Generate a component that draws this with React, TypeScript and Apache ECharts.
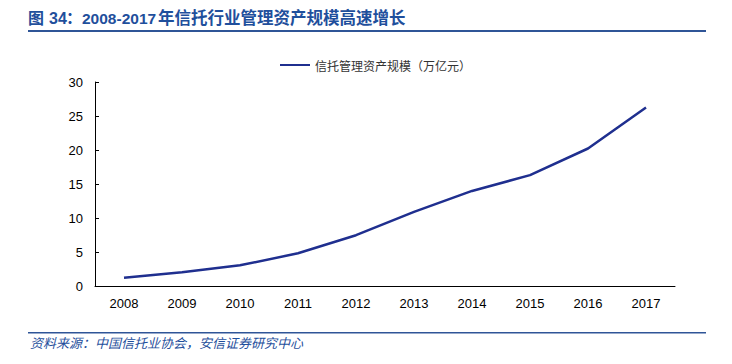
import React, { useEffect, useRef } from "react";
import * as echarts from "echarts";

const years = ["2008", "2009", "2010", "2011", "2012", "2013", "2014", "2015", "2016", "2017"];
const trustAssets = [1.22, 2.02, 3.04, 4.81, 7.47, 10.91, 13.98, 16.3, 20.22, 26.25];
const seriesName = "信托管理资产规模（万亿元）";
const titlePrefix = "图";
const titleNumber = "34";
const titleColon = "：";
const titleYears = "2008-2017";
const titleMain = "年信托行业管理资产规模高速增长";
const sourceText = "资料来源：中国信托业协会，安信证券研究中心";

export default function App() {
  const ref = useRef<HTMLDivElement>(null);
  useEffect(() => {
    const chart = echarts.init(ref.current!, undefined, { renderer: "svg" });
    const titleColor = "#1f4f9c";
    const latin = "'Liberation Sans', Arial, sans-serif";
    const cjk = "'Noto Sans CJK SC', sans-serif";
    chart.setOption({
      animation: false,
      backgroundColor: "#fff",
      graphic: [
        { type: "text", left: 28, top: 9, style: { text: titlePrefix, fill: titleColor, font: `bold 16px ${cjk}` } },
        { type: "text", left: 49, top: 10, style: { text: titleNumber, fill: titleColor, font: `bold 16px ${latin}` } },
        { type: "text", left: 66, top: 9, style: { text: titleColon, fill: titleColor, font: `bold 16px ${cjk}` } },
        { type: "text", left: 82, top: 10, style: { text: titleYears, fill: titleColor, font: `bold 15.5px ${latin}` } },
        { type: "text", left: 158, top: 9, style: { text: titleMain, fill: titleColor, font: `bold 16.5px ${cjk}` } },
        { type: "rect", shape: { x: 28, y: 30, width: 678, height: 2 }, style: { fill: "#2f5597" } },
        { type: "rect", shape: { x: 28, y: 332, width: 678, height: 1.5 }, style: { fill: "#2f5597" } },
        {
          type: "text",
          left: 30,
          top: 336,
          style: { text: sourceText, fill: titleColor, font: `italic 13px ${cjk}` },
        },
      ],
      legend: {
        left: 275,
        top: 54,
        itemWidth: 30,
        itemHeight: 2,
        itemGap: 5,
        icon: "rect",
        textStyle: { color: "#333", fontSize: 12, fontFamily: cjk },
        data: [seriesName],
      },
      grid: { left: 95, right: 57, top: 82, bottom: 78 },
      xAxis: {
        type: "category",
        data: years,
        boundaryGap: true,
        axisLine: { lineStyle: { color: "#000", width: 1 } },
        axisTick: { inside: true, length: 4, lineStyle: { color: "#000" }, alignWithLabel: false },
        axisLabel: { color: "#000", fontSize: 13, fontFamily: latin, margin: 11 },
      },
      yAxis: {
        type: "value",
        min: 0,
        max: 30,
        interval: 5,
        splitLine: { show: false },
        axisLine: { show: true, lineStyle: { color: "#000", width: 1 } },
        axisTick: { show: true, inside: true, length: 4, lineStyle: { color: "#000" } },
        axisLabel: { color: "#000", fontSize: 13, fontFamily: latin, margin: 12 },
      },
      series: [
        {
          name: seriesName,
          type: "line",
          data: trustAssets,
          symbol: "none",
          lineStyle: { color: "#1f2f8f", width: 2.5 },
          itemStyle: { color: "#1f2f8f" },
        },
      ],
    });
    return () => chart.dispose();
  }, []);
  return <div ref={ref} style={{ width: 732, height: 364, position: "absolute", left: 0, top: 0 }} />;
}
